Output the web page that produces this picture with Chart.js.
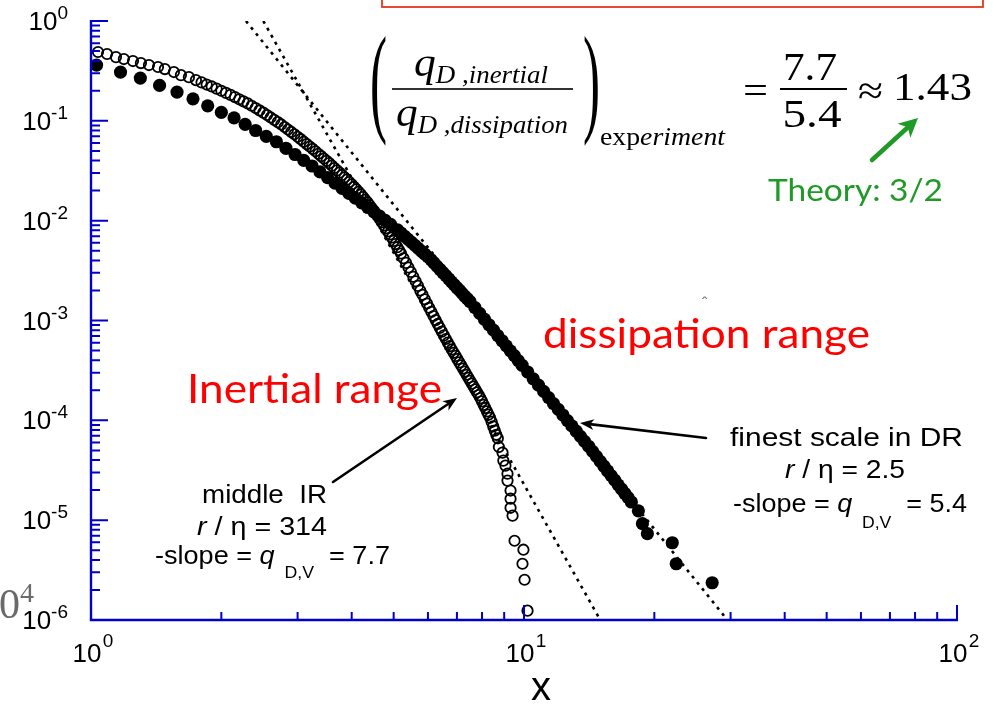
<!DOCTYPE html>
<html>
<head>
<meta charset="utf-8">
<script src="https://cdn.jsdelivr.net/npm/chart.js@4.4.1/dist/chart.umd.min.js"></script>
<style>
  html, body { margin: 0; padding: 0; background: #fff; }
  canvas { display: block; }
</style>
</head>
<body>
<canvas id="pdfChart" width="994" height="715"></canvas>
<script>
// open circles: middle of the inertial range (r/eta = 314)
const openX = [1.038, 1.089, 1.142, 1.191, 1.250, 1.304, 1.361, 1.428, 1.481, 1.554, 1.613, 1.683, 1.747,
    1.80, 1.85, 1.90, 1.95, 2.00, 2.05, 2.10, 2.15, 2.20, 2.25, 2.30, 2.35, 2.40, 2.45, 2.50, 2.55, 2.60,
    2.65, 2.70, 2.75, 2.80, 2.85, 2.90, 2.95, 3.00, 3.05, 3.10, 3.15, 3.20, 3.25, 3.30, 3.35, 3.40, 3.45,
    3.50, 3.55, 3.60, 3.65, 3.70, 3.75, 3.80, 3.85, 3.90, 3.95, 4.00, 4.05, 4.10, 4.15, 4.20, 4.25, 4.30,
    4.35, 4.40, 4.45, 4.50, 4.55, 4.60, 4.65, 4.70, 4.75, 4.80, 4.85, 4.90, 4.95, 5.00, 5.05, 5.10, 5.15,
    5.20, 5.27, 5.34, 5.41, 5.48, 5.55, 5.62, 5.69, 5.76, 5.83, 5.90, 5.97, 6.04, 6.11, 6.18, 6.25, 6.32,
    6.39, 6.46, 6.53, 6.60, 6.67, 6.74, 6.81, 6.88, 6.95, 7.02, 7.09, 7.16, 7.23, 7.30, 7.37, 7.44, 7.51,
    7.58, 7.65, 7.72, 7.79, 7.86, 7.93, 8.00, 8.07, 8.14, 8.21, 8.28, 8.35, 8.42, 8.49, 8.56, 8.63, 8.70,
    8.75, 8.92, 8.96, 9.06, 9.16, 9.16, 9.31, 9.31, 9.31, 9.41, 9.51, 9.97, 9.92, 10.03, 10.19];
const openY = [0.489, 0.467, 0.435, 0.416, 0.397, 0.379, 0.362, 0.346, 0.330, 0.308, 0.287, 0.274, 0.256,
    0.243, 0.231, 0.221, 0.210, 0.200, 0.1905, 0.182, 0.173, 0.1644, 0.1567, 0.1496, 0.1416, 0.1343, 0.1271, 0.1208, 0.1143, 0.1081,
    0.1023, 0.0970, 0.0920, 0.0867, 0.0818, 0.0774, 0.0733, 0.0693, 0.0655, 0.0618, 0.0585, 0.0553, 0.0524, 0.0496, 0.0468, 0.0443, 0.0419,
    0.0397, 0.0377, 0.0356, 0.0337, 0.0319, 0.0303, 0.0287, 0.0272, 0.0258, 0.0244, 0.0231, 0.0218, 0.0206, 0.01945, 0.01832, 0.01722, 0.01622,
    0.01531, 0.01429, 0.01337, 0.01253, 0.01175, 0.01102, 0.01033, 0.00964, 0.00897, 0.00838, 0.0078, 0.00728, 0.00678, 0.00628, 0.00583, 0.00542, 0.00505,
    0.00469, 0.0042, 0.00378, 0.0034, 0.00306, 0.00274, 0.00247, 0.00222, 0.0020, 0.00181, 0.00163, 0.00148, 0.00134, 0.00122, 0.00111, 0.00101, 9.23e-4,
    8.43e-4, 7.73e-4, 7.10e-4, 6.53e-4, 6.01e-4, 5.53e-4, 5.13e-4, 4.75e-4, 4.42e-4, 4.10e-4, 3.81e-4, 3.55e-4, 3.30e-4, 3.08e-4, 2.86e-4, 2.67e-4, 2.49e-4,
    2.33e-4, 2.18e-4, 2.04e-4, 1.91e-4, 1.79e-4, 1.67e-4, 1.55e-4, 1.43e-4, 1.33e-4, 1.23e-4, 1.14e-4, 1.06e-4, 9.64e-5, 8.71e-5, 7.89e-5, 7.16e-5, 6.61e-5,
    5.4e-5, 4.75e-5, 3.95e-5, 3.52e-5, 2.92e-5, 2.49e-5, 1.98e-5, 1.64e-5, 1.33e-5, 1.11e-5, 6.22e-6, 5.06e-6, 3.66e-6, 2.53e-6, 1.24e-6];

// filled circles: finest scale in the dissipation range (r/eta = 2.5)
const filledX = [1.03, 1.17, 1.30, 1.44, 1.58, 1.72, 1.86, 2.00, 2.14, 2.27, 2.40, 2.54, 2.68,
    2.82, 2.96, 3.10, 3.24, 3.38, 3.52, 3.66, 3.80, 3.94, 4.08, 4.22, 4.36, 4.50, 4.64, 4.78, 4.92,
    5.10, 5.20, 5.30, 5.40, 5.50, 5.60, 5.70, 5.80, 5.90, 6.00, 6.10, 6.20, 6.30, 6.40, 6.50, 6.60,
    6.70, 6.80, 6.90, 7.00, 7.10, 7.20, 7.30, 7.40, 7.50, 7.70, 7.90, 8.10, 8.30, 8.50, 8.70, 8.90,
    9.10, 9.30, 9.50, 9.70, 9.90, 10.2, 10.5, 10.8, 11.1, 11.4, 11.7, 12.0, 12.3, 12.6, 12.9, 13.2,
    13.5, 13.8, 14.1, 14.4, 14.7, 15.0, 15.3, 15.6, 15.9, 16.2, 16.5, 16.8, 17.1, 17.4, 17.7,
    18.37, 18.77, 19.27, 22.0, 22.47, 27.2];
const filledY = [0.362, 0.308, 0.268, 0.2265, 0.194, 0.166, 0.1413, 0.1216, 0.1072, 0.0923, 0.0800, 0.0700, 0.0617,
    0.0531, 0.0460, 0.0402, 0.0353, 0.0308, 0.0270, 0.0238, 0.0211, 0.0188, 0.0168, 0.0151, 0.01355, 0.01225, 0.01109, 0.01007, 0.00916,
    0.00811, 0.00752, 0.00698, 0.0065, 0.00605, 0.00565, 0.00528, 0.00494, 0.00462, 0.00434, 0.00406, 0.00376, 0.00349, 0.00324, 0.00301, 0.00281,
    0.00262, 0.00244, 0.00228, 0.00213, 0.00200, 0.00187, 0.00175, 0.00165, 0.00155, 0.00135, 0.00118, 0.00103, 9.06e-4, 8.00e-4, 7.06e-4, 6.27e-4,
    5.57e-4, 4.97e-4, 4.44e-4, 3.97e-4, 3.56e-4, 3.05e-4, 2.61e-4, 2.25e-4, 1.95e-4, 1.69e-4, 1.47e-4, 1.29e-4, 1.13e-4, 9.95e-5, 8.79e-5, 7.78e-5,
    6.92e-5, 6.15e-5, 5.50e-5, 4.89e-5, 4.36e-5, 3.88e-5, 3.47e-5, 3.11e-5, 2.79e-5, 2.52e-5, 2.26e-5, 2.05e-5, 1.85e-5, 1.68e-5, 1.52e-5,
    1.24e-5, 9.23e-6, 7.33e-6, 5.94e-6, 3.66e-6, 2.36e-6];

// dotted power-law fits, slope -7.7 (IR) and -5.4 (DR)
const fitIrX = [2.50, 15.0];
const fitIrY = [1, 1e-6];
const fitDrX = [2.28, 29.5];
const fitDrY = [1, 1e-6];

// axes
const xTickExps = [0, 1, 2];
const yTickExps = [0, -1, -2, -3, -4, -5, -6];
const minorSteps = [2, 3, 4, 5, 6, 7, 8, 9];

const BLUE = '#0000cc';
const RED = '#ff0000';
const GREEN = '#1f9a27';
const SANS = '"Liberation Sans", Arial, sans-serif';
const SERIF = '"Liberation Serif", "Times New Roman", serif';
const CAL = 'Lato, "Open Sans", sans-serif';

function toPoints(xs, ys) {
    return xs.map((x, i) => ({ x: x, y: ys[i] }));
}

// draws a run of text pieces, optionally stretched to a given width
function rich(ctx, parts, x, y, opts) {
    opts = opts || {};
    let total = 0;
    const widths = parts.map(p => {
        ctx.font = p.font;
        const w = ctx.measureText(p.text).width;
        total += w;
        return w;
    });
    const sx = opts.width ? opts.width / total : 1;
    let start = x;
    if (opts.align === 'center') start = x - total * sx / 2;
    if (opts.align === 'right') start = x - total * sx;
    ctx.save();
    ctx.translate(start, y);
    ctx.scale(sx, opts.sy || 1);
    ctx.textBaseline = 'alphabetic';
    ctx.textAlign = 'left';
    let cx = 0;
    parts.forEach((p, i) => {
        ctx.font = p.font;
        ctx.fillStyle = p.color || opts.color || '#000';
        ctx.fillText(p.text, cx, p.dy || 0);
        cx += widths[i];
    });
    ctx.restore();
}

function arrow(ctx, x1, y1, x2, y2, color, lw, headLen, headW) {
    const ang = Math.atan2(y2 - y1, x2 - x1);
    ctx.save();
    ctx.strokeStyle = color;
    ctx.fillStyle = color;
    ctx.lineWidth = lw;
    ctx.lineCap = 'round';
    ctx.beginPath();
    ctx.moveTo(x1, y1);
    ctx.lineTo(x2 - headLen * 0.7 * Math.cos(ang), y2 - headLen * 0.7 * Math.sin(ang));
    ctx.stroke();
    ctx.translate(x2, y2);
    ctx.rotate(ang);
    ctx.beginPath();
    ctx.moveTo(0, 0);
    ctx.lineTo(-headLen, -headW);
    ctx.lineTo(-headLen * 0.72, 0);
    ctx.lineTo(-headLen, headW);
    ctx.closePath();
    ctx.fill();
    ctx.restore();
}

const decor = {
    id: 'decor',
    afterDatasetsDraw(chart) {
        const ctx = chart.ctx;
        const a = chart.chartArea;
        const xs = chart.scales.x;
        const ys = chart.scales.y;
        ctx.save();

        // axis lines
        ctx.strokeStyle = BLUE;
        ctx.lineWidth = 2.4;
        ctx.beginPath();
        ctx.moveTo(a.left, a.top - 1);
        ctx.lineTo(a.left, a.bottom);
        ctx.lineTo(a.right + 1, a.bottom);
        ctx.stroke();

        // inward ticks
        ctx.lineWidth = 2;
        ctx.beginPath();
        yTickExps.forEach(e => {
            const py = ys.getPixelForValue(Math.pow(10, e));
            ctx.moveTo(a.left, py);
            ctx.lineTo(a.left + 17, py);
        });
        yTickExps.slice(1).forEach(e => {
            minorSteps.forEach(m => {
                const py = ys.getPixelForValue(m * Math.pow(10, e));
                ctx.moveTo(a.left, py);
                ctx.lineTo(a.left + 9, py);
            });
        });
        xTickExps.forEach(e => {
            const px = xs.getPixelForValue(Math.pow(10, e));
            ctx.moveTo(px, a.bottom);
            ctx.lineTo(px, a.bottom - 15);
        });
        xTickExps.slice(0, 2).forEach(e => {
            minorSteps.forEach(m => {
                const px = xs.getPixelForValue(m * Math.pow(10, e));
                ctx.moveTo(px, a.bottom);
                ctx.lineTo(px, a.bottom - 8);
            });
        });
        ctx.stroke();

        // tick labels
        const tickFont = '26px ' + SANS;
        const supFont = '19px ' + SANS;
        yTickExps.forEach(e => {
            const py = ys.getPixelForValue(Math.pow(10, e));
            rich(ctx, [{ text: '10', font: tickFont }, { text: String(e), font: supFont, dy: -11 }],
                68, py + 9, { align: 'right' });
        });
        xTickExps.forEach(e => {
            const px = xs.getPixelForValue(Math.pow(10, e));
            rich(ctx, [{ text: '10', font: tickFont }, { text: ' ', font: '5px ' + SANS },
                { text: String(e), font: supFont, dy: -15 }], px + 2, 662, { align: 'center' });
        });
        rich(ctx, [{ text: 'x', font: '40px ' + SANS }], 541, 700, { align: 'center' });

        // stray fragment at the lower left
        rich(ctx, [{ text: '10', font: '42px ' + SERIF, color: '#6a6a6a' },
            { text: '4', font: '28px ' + SERIF, color: '#6a6a6a', dy: -16 }], -22, 618, {});

        // range labels
        rich(ctx, [{ text: 'Inertial range', font: '40px ' + CAL }], 187, 403, { width: 255, color: RED });
        rich(ctx, [{ text: 'dissipation range', font: '40px ' + CAL }], 543, 348, { width: 327, color: RED });
        rich(ctx, [{ text: 'ˆ', font: '18px ' + CAL }], 701, 309, { color: '#777' });

        // annotations for the two data sets
        const f = '26px ' + SANS;
        const fi = 'italic 26px ' + SANS;
        const fs = '17px ' + SANS;
        rich(ctx, [{ text: 'middle  IR', font: f }], 202, 503, { width: 125 });
        rich(ctx, [{ text: 'r', font: fi }, { text: ' / η = 314', font: f }], 197, 535, { width: 130 });
        rich(ctx, [{ text: '-slope = ', font: f }, { text: 'q', font: fi }, { text: '  ', font: fs },
            { text: 'D,V', font: fs, dy: 14 }, { text: '  = 7.7', font: f }], 155, 564, { width: 235 });
        rich(ctx, [{ text: 'finest scale in DR', font: f }], 730, 446, { width: 233 });
        rich(ctx, [{ text: 'r', font: fi }, { text: ' / η = 2.5', font: f }], 785, 478, { width: 120 });
        rich(ctx, [{ text: '-slope = ', font: f }, { text: 'q', font: fi }, { text: '  ', font: fs },
            { text: 'D,V', font: fs, dy: 16 }, { text: '  = 5.4', font: f }], 733, 512, { width: 234 });

        arrow(ctx, 333, 482, 457, 398, '#000', 2.6, 14, 5.5);
        arrow(ctx, 706, 438, 580, 423, '#000', 2.6, 14, 5.5);

        // ratio formula
        const qf = 'italic 42px ' + SERIF;
        const sf = 'italic 26px ' + SERIF;
        rich(ctx, [{ text: 'q', font: qf }, { text: 'D ,inertial', font: sf, dy: 7 }], 414, 76, { width: 134 });
        rich(ctx, [{ text: 'q', font: qf }, { text: 'D ,dissipation', font: sf, dy: 7 }], 396, 126, { width: 172 });
        ctx.fillStyle = '#000';
        ctx.fillRect(392, 88.2, 181, 1.6);
        rich(ctx, [{ text: '(', font: '120px ' + SERIF }], 370, 120, { width: 17 });
        rich(ctx, [{ text: ')', font: '120px ' + SERIF }], 583, 120, { width: 17 });
        rich(ctx, [{ text: 'exp', font: '26px ' + SERIF }, { text: 'eriment', font: 'italic 26px ' + SERIF }],
            600, 145, { width: 125 });
        rich(ctx, [{ text: '=', font: '40px ' + SERIF }], 743, 104, { width: 25 });
        rich(ctx, [{ text: '7.7', font: '40px ' + SERIF }], 810, 80, { align: 'center', width: 54 });
        ctx.fillRect(780, 88, 67, 2);
        rich(ctx, [{ text: '5.4', font: '40px ' + SERIF }], 812, 127, { align: 'center', width: 59 });
        rich(ctx, [{ text: '≈', font: '40px ' + SERIF }], 858, 104, { width: 25 });
        rich(ctx, [{ text: '1.43', font: '40px ' + SERIF }], 893, 100, { width: 79 });

        arrow(ctx, 872, 160, 918, 118, GREEN, 4.5, 19, 9.5);
        rich(ctx, [{ text: 'Theory: 3/2', font: '31px ' + CAL }], 768, 201, { width: 175, color: GREEN });

        // red frame cut by the top edge
        ctx.strokeStyle = '#e8341c';
        ctx.lineWidth = 1.8;
        ctx.strokeRect(382, -10, 601, 17);

        ctx.restore();
    }
};

new Chart(document.getElementById('pdfChart'), {
    type: 'scatter',
    data: {
        datasets: [
            {
                label: 'middle IR',
                data: toPoints(openX, openY),
                pointStyle: 'circle',
                pointRadius: 5.2,
                pointBorderWidth: 1.8,
                pointBorderColor: '#000',
                pointBackgroundColor: 'rgba(0,0,0,0)'
            },
            {
                label: 'finest scale in DR',
                data: toPoints(filledX, filledY),
                pointStyle: 'circle',
                pointRadius: 6.6,
                pointBorderWidth: 0,
                pointBackgroundColor: '#000'
            },
            {
                label: 'fit IR',
                data: toPoints(fitIrX, fitIrY),
                showLine: true,
                pointRadius: 0,
                borderColor: '#000',
                borderWidth: 2.6,
                borderDash: [3, 5]
            },
            {
                label: 'fit DR',
                data: toPoints(fitDrX, fitDrY),
                showLine: true,
                pointRadius: 0,
                borderColor: '#000',
                borderWidth: 2.6,
                borderDash: [3, 5]
            }
        ]
    },
    options: {
        responsive: false,
        animation: false,
        events: [],
        layout: { padding: { left: 91, right: 37, top: 21, bottom: 95 } },
        plugins: { legend: { display: false }, tooltip: { enabled: false } },
        scales: {
            x: { type: 'logarithmic', min: 1, max: 100, display: false },
            y: { type: 'logarithmic', min: 1e-6, max: 1, display: false }
        }
    },
    plugins: [decor]
});
</script>
</body>
</html>
